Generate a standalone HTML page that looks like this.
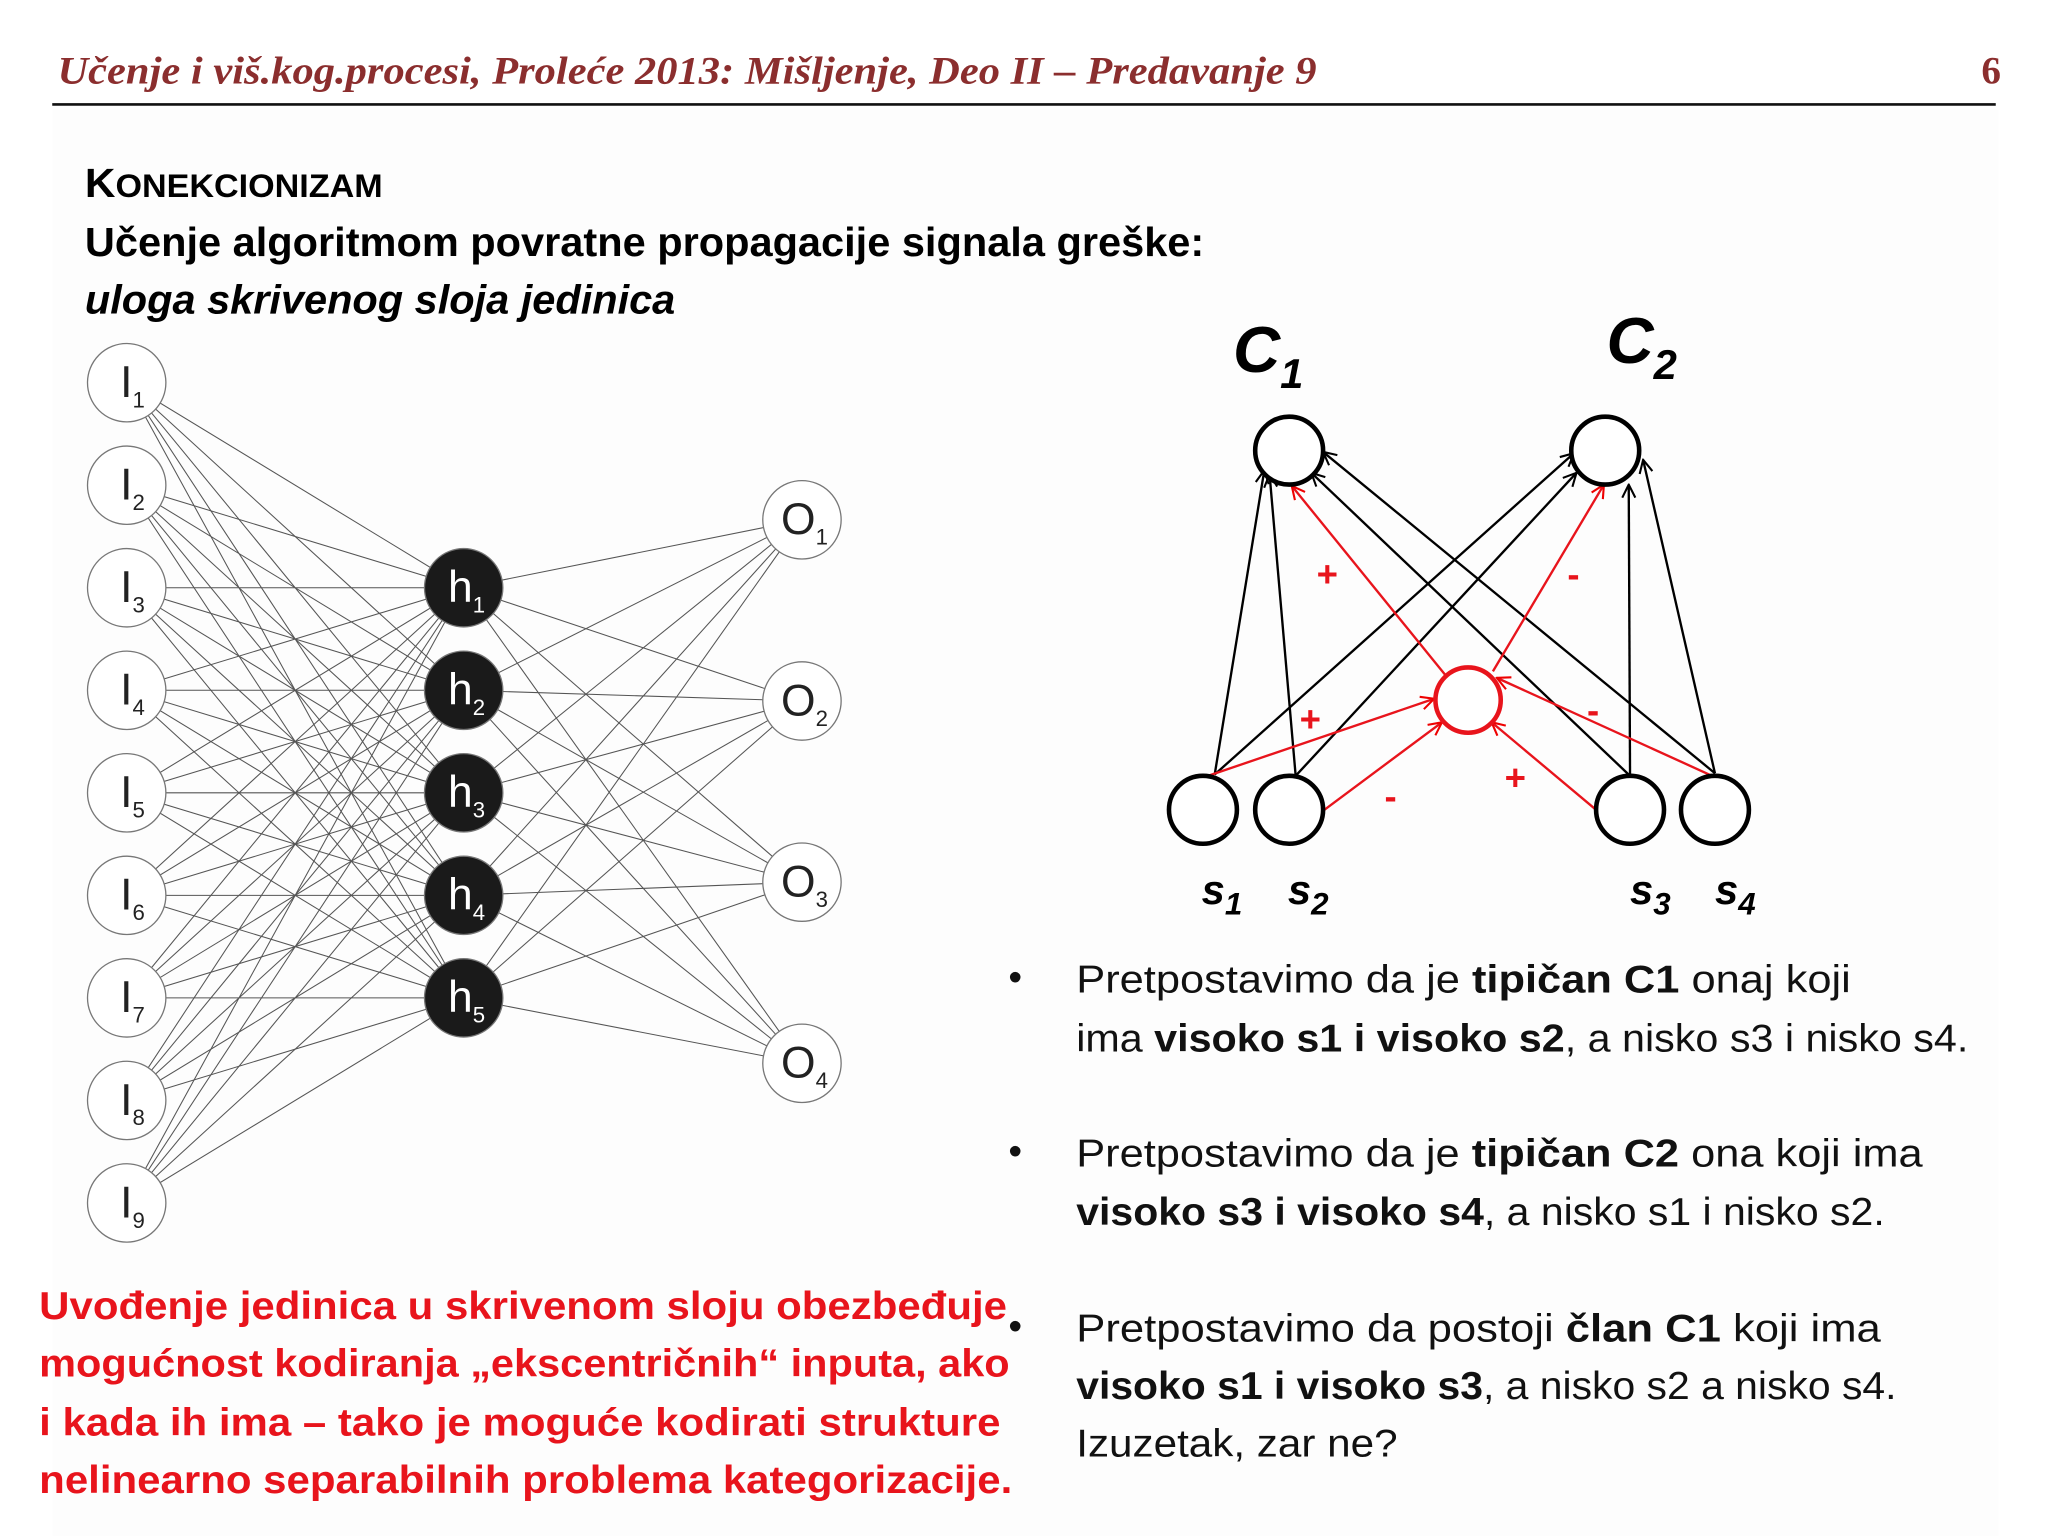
<!DOCTYPE html>
<html><head><meta charset="utf-8"><style>html,body{margin:0;padding:0;background:#fff}svg{display:block}</style></head>
<body>
<svg id="s" xmlns="http://www.w3.org/2000/svg" width="2048" height="1536" viewBox="0 0 1568 1176">
<defs>
<marker id="ab" viewBox="0 0 12 12" refX="11" refY="6" markerWidth="12" markerHeight="12" markerUnits="userSpaceOnUse" orient="auto"><path d="M1,1 L11,6 L1,11" fill="none" stroke="#000" stroke-width="1.6"/></marker>
<marker id="ar" viewBox="0 0 12 12" refX="11" refY="6" markerWidth="12" markerHeight="12" markerUnits="userSpaceOnUse" orient="auto"><path d="M1,1 L11,6 L1,11" fill="none" stroke="#e00" stroke-width="1.6"/></marker>
</defs>
<rect x="0" y="0" width="1568" height="1176" fill="#fff"/>
<rect x="40" y="84" width="1490" height="1092" fill="#fdfdfd"/>
<text x="44" y="64" font-family="Liberation Serif, serif" font-style="italic" font-weight="bold" font-size="30" fill="#8b2e2e" textLength="964" lengthAdjust="spacingAndGlyphs">Učenje i viš.kog.procesi, Proleće 2013: Mišljenje, Deo II – Predavanje 9</text>
<text x="1517" y="64" font-family="Liberation Serif, serif" font-weight="bold" font-size="30" fill="#8b2e2e">6</text>
<line x1="40" y1="80" x2="1528" y2="80" stroke="#111" stroke-width="2"/>
<g font-family="Liberation Sans, sans-serif" font-weight="bold" fill="#000">
<text x="65" y="151" font-size="31" textLength="228" lengthAdjust="spacingAndGlyphs">K<tspan font-size="25">ONEKCIONIZAM</tspan></text>
<text x="65" y="196" font-size="31" textLength="857" lengthAdjust="spacingAndGlyphs">Učenje algoritmom povratne propagacije signala greške:</text>
<text x="65" y="240" font-size="31" font-style="italic" textLength="452" lengthAdjust="spacingAndGlyphs">uloga skrivenog sloja jedinica</text>
</g>
<g id="net"></g>
<g font-family="Liberation Sans, sans-serif" font-weight="bold" font-size="30" fill="#e8141c">
<text x="30" y="1010" textLength="741" lengthAdjust="spacingAndGlyphs">Uvođenje jedinica u skrivenom sloju obezbeđuje</text>
<text x="30" y="1054" textLength="743" lengthAdjust="spacingAndGlyphs">mogućnost kodiranja „ekscentričnih“ inputa, ako</text>
<text x="30" y="1099" textLength="736" lengthAdjust="spacingAndGlyphs">i kada ih ima – tako je moguće kodirati strukture</text>
<text x="30" y="1143" textLength="745" lengthAdjust="spacingAndGlyphs">nelinearno separabilnih problema kategorizacije.</text>
</g>
<g font-family="Liberation Sans, sans-serif" font-size="30" fill="#111">
<text x="772" y="758">•</text><text x="772" y="891">•</text><text x="772" y="1025">•</text>
<text x="824" y="760" textLength="593" lengthAdjust="spacingAndGlyphs">Pretpostavimo da je <tspan font-weight="bold">tipičan C1</tspan> onaj koji</text>
<text x="824" y="805" textLength="683" lengthAdjust="spacingAndGlyphs">ima <tspan font-weight="bold">visoko s1 i visoko s2</tspan>, a nisko s3 i nisko s4.</text>
<text x="824" y="893" textLength="648" lengthAdjust="spacingAndGlyphs">Pretpostavimo da je <tspan font-weight="bold">tipičan C2</tspan> ona koji ima</text>
<text x="824" y="938" textLength="619" lengthAdjust="spacingAndGlyphs"><tspan font-weight="bold">visoko s3 i visoko s4</tspan>, a nisko s1 i nisko s2.</text>
<text x="824" y="1027" textLength="616" lengthAdjust="spacingAndGlyphs">Pretpostavimo da postoji <tspan font-weight="bold">član C1</tspan> koji ima</text>
<text x="824" y="1071" textLength="628" lengthAdjust="spacingAndGlyphs"><tspan font-weight="bold">visoko s1 i visoko s3</tspan>, a nisko s2 a nisko s4.</text>
<text x="824" y="1115" textLength="246" lengthAdjust="spacingAndGlyphs">Izuzetak, zar ne?</text>
</g>
<g stroke="#000" stroke-width="1.8" fill="none" marker-end="url(#ab)">
<line x1="930" y1="593" x2="968" y2="360"/>
<line x1="930" y1="593" x2="1205" y2="347"/>
<line x1="992" y1="594" x2="972" y2="363"/>
<line x1="992" y1="594" x2="1207" y2="362"/>
<line x1="1248" y1="594" x2="1004" y2="362"/>
<line x1="1248" y1="594" x2="1247" y2="371"/>
<line x1="1313" y1="592" x2="1013" y2="346"/>
<line x1="1313" y1="592" x2="1258" y2="352"/>
</g>
<g stroke="#e8141c" stroke-width="1.8" fill="none" marker-end="url(#ar)">
<line x1="1110" y1="521" x2="989" y2="372"/>
<line x1="1143" y1="514" x2="1228" y2="371"/>
<line x1="922" y1="595" x2="1098" y2="535"/>
<line x1="1014" y1="620" x2="1104" y2="553"/>
<line x1="1222" y1="620" x2="1142" y2="553"/>
<line x1="1313" y1="595" x2="1146" y2="519"/>
</g>
<g stroke="#000" stroke-width="3.5" fill="#fff">
<circle cx="987" cy="345" r="26"/><circle cx="1229" cy="345" r="26"/>
<circle cx="921" cy="620" r="26"/><circle cx="987" cy="620" r="26"/>
<circle cx="1248" cy="620" r="26"/><circle cx="1313" cy="620" r="26"/>
</g>
<circle cx="1124" cy="536" r="25" stroke="#e8141c" stroke-width="3.5" fill="#fff"/>
<g font-family="Liberation Sans, sans-serif" font-weight="bold" font-size="28" fill="#e8141c">
<text x="1008" y="449">+</text><text x="1200" y="449">-</text>
<text x="995" y="560">+</text><text x="1215" y="553">-</text>
<text x="1060" y="619">-</text><text x="1152" y="605">+</text>
</g>
<g font-family="Liberation Sans, sans-serif" font-weight="bold" font-style="italic" fill="#000">
<text x="944" y="285" font-size="50">C<tspan font-size="32" dy="12">1</tspan></text>
<text x="1230" y="278" font-size="50">C<tspan font-size="32" dy="12">2</tspan></text>
<text x="920" y="692" font-size="32">s<tspan font-size="24" dy="8">1</tspan></text>
<text x="986" y="692" font-size="32">s<tspan font-size="24" dy="8">2</tspan></text>
<text x="1248" y="692" font-size="32">s<tspan font-size="24" dy="8">3</tspan></text>
<text x="1313" y="692" font-size="32">s<tspan font-size="24" dy="8">4</tspan></text>
</g>
<script>
(function(){
var ns="http://www.w3.org/2000/svg",g=document.getElementById("net");
function el(t,a,txt){var e=document.createElementNS(ns,t);for(var k in a)e.setAttribute(k,a[k]);if(txt!=null)e.textContent=txt;g.appendChild(e);return e;}
var I=[],H=[],O=[],i,j;
for(i=0;i<9;i++)I.push([97,293+i*78.5]);
for(i=0;i<5;i++)H.push([355,450+i*78.5]);
for(i=0;i<4;i++)O.push([614,398+i*138.7]);
for(i=0;i<9;i++)for(j=0;j<5;j++)el("line",{x1:I[i][0],y1:I[i][1],x2:H[j][0],y2:H[j][1],stroke:"#555","stroke-width":"0.8"});
for(i=0;i<5;i++)for(j=0;j<4;j++)el("line",{x1:H[i][0],y1:H[i][1],x2:O[j][0],y2:O[j][1],stroke:"#555","stroke-width":"0.8"});
function node(p,fill,lab,sub,col){
 el("circle",{cx:p[0],cy:p[1],r:30,fill:fill,stroke:"#777","stroke-width":"1"});
 var t=el("text",{x:p[0]-(lab=="I"?5:(lab=="O"?16:12)),y:p[1]+11,"font-family":"Liberation Sans, sans-serif","font-size":"34",fill:col});
 t.textContent=lab;
 var s=document.createElementNS(ns,"tspan");s.setAttribute("font-size","17");s.setAttribute("dy","8");s.textContent=sub;t.appendChild(s);
}
for(i=0;i<9;i++)node(I[i],"#fff","I",i+1,"#222");
for(i=0;i<5;i++)node(H[i],"#1a1a1a","h",i+1,"#fff");
for(i=0;i<4;i++)node(O[i],"#fff","O",i+1,"#222");
})();
</script>
</svg>
</body></html>
